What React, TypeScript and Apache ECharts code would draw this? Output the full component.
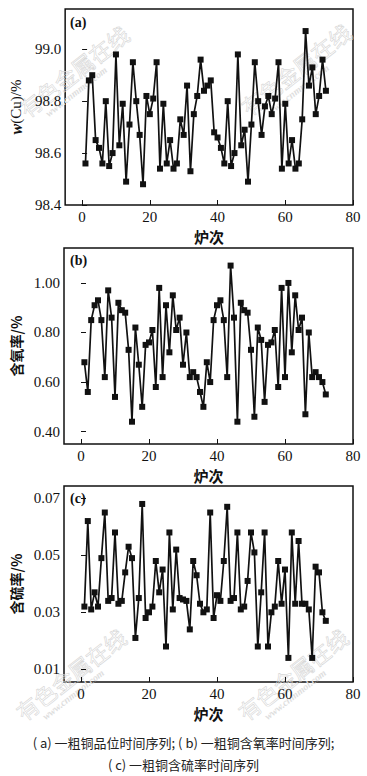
import React, { useEffect, useRef } from "react";
import * as echarts from "echarts";

const furnace = [
  1, 2, 3, 4, 5, 6, 7, 8, 9, 10, 11, 12, 13, 14, 15, 16, 17, 18, 19, 20, 21, 22, 23, 24,
  25, 26, 27, 28, 29, 30, 31, 32, 33, 34, 35, 36, 37, 38, 39, 40, 41, 42, 43, 44, 45, 46, 47, 48,
  49, 50, 51, 52, 53, 54, 55, 56, 57, 58, 59, 60, 61, 62, 63, 64, 65, 66, 67, 68, 69, 70, 71, 72,
];

const cuValues = [
  98.56, 98.88, 98.9, 98.65, 98.62, 98.56, 98.8, 98.55, 98.6, 98.98,
  98.63, 98.79, 98.49, 98.71, 98.95, 98.8, 98.67, 98.48, 98.82, 98.75,
  98.81, 98.95, 98.54, 98.79, 98.56, 98.65, 98.54, 98.56, 98.73, 98.67,
  98.86, 98.53, 98.75, 98.82, 98.96, 98.84, 98.86, 98.88, 98.68, 98.66,
  98.62, 98.56, 98.8, 98.55, 98.6, 98.98, 98.63, 98.69, 98.49, 98.71,
  98.95, 98.8, 98.67, 98.78, 98.82, 98.75, 98.81, 98.95, 98.54, 98.79,
  98.56, 98.65, 98.54, 98.56, 98.73, 99.07, 98.86, 98.93, 98.75, 98.82,
  98.96, 98.84,
];

const oxygenValues = [
  0.68, 0.56, 0.85, 0.91, 0.93, 0.85, 0.62, 0.97, 0.86, 0.54,
  0.92, 0.89, 0.88, 0.73, 0.44, 0.82, 0.67, 0.5, 0.75, 0.76,
  0.81, 0.58, 0.98, 0.62, 0.91, 0.72, 0.95, 0.81, 0.86, 0.67,
  0.8, 0.62, 0.64, 0.62, 0.56, 0.5, 0.68, 0.6, 0.85, 0.91,
  0.93, 0.85, 0.62, 1.07, 0.86, 0.44, 0.92, 0.89, 0.88, 0.73,
  0.46, 0.82, 0.77, 0.52, 0.75, 0.76, 0.81, 0.58, 0.98, 0.62,
  1.0, 0.72, 0.95, 0.81, 0.86, 0.47, 0.8, 0.62, 0.64, 0.62,
  0.6, 0.55,
];

const sulfurValues = [
  0.032, 0.062, 0.031, 0.037, 0.032, 0.049, 0.065, 0.034, 0.035, 0.058,
  0.033, 0.034, 0.044, 0.053, 0.049, 0.021, 0.035, 0.068, 0.028, 0.03,
  0.032, 0.048, 0.037, 0.045, 0.018, 0.058, 0.031, 0.052, 0.035, 0.0345,
  0.034, 0.024, 0.048, 0.043, 0.033, 0.03, 0.031, 0.065, 0.028, 0.036,
  0.034, 0.048, 0.067, 0.034, 0.035, 0.058, 0.031, 0.032, 0.041, 0.058,
  0.051, 0.018, 0.037, 0.058, 0.018, 0.03, 0.032, 0.048, 0.033, 0.045,
  0.014, 0.058, 0.033, 0.055, 0.033, 0.033, 0.031, 0.014, 0.046, 0.044,
  0.03, 0.027,
];

const xTicks = [0, 20, 40, 60, 80];
const cuTicks = [98.4, 98.6, 98.8, 99.0];
const oxygenTicks = [0.4, 0.6, 0.8, 1.0];
const sulfurTicks = [0.01, 0.03, 0.05, 0.07];

const panelLabels = ["(a)", "(b)", "(c)"];
const xName = "炉次";
const yNames = ["{i|w}(Cu)/%", "含氧率/%", "含硫率/%"];
const captionLine1 = "( a) 一粗铜品位时间序列; ( b) 一粗铜含氧率时间序列;";
const captionLine2 = "( c) 一粗铜含硫率时间序列";
const watermarkText = "有色金属在线";
const watermarkUrl = "www.cnmmol.com";

const SERIF = "'Liberation Serif', 'DejaVu Serif', serif";
const CJK = "'Noto Sans CJK SC', sans-serif";

export default function App() {
  const ref = useRef<HTMLDivElement>(null);

  useEffect(() => {
    if (!ref.current) return;
    const chart = echarts.init(ref.current, undefined, { renderer: "svg" });

    const panels = [
      { top: 9, min: 98.4, max: 99.155, ticks: cuTicks, digits: 1, values: cuValues },
      { top: 248, min: 0.35, max: 1.141, ticks: oxygenTicks, digits: 2, values: oxygenValues },
      { top: 486, min: 0.00555, max: 0.0743, ticks: sulfurTicks, digits: 2, values: sulfurValues },
    ];

    const grid = panels.map((p) => ({
      left: 64,
      right: 14,
      top: p.top,
      height: 196,
      show: true,
      borderColor: "#111",
      borderWidth: 1.5,
      backgroundColor: "transparent",
    }));

    const xAxis = panels.map((_, i) => ({
      type: "value",
      gridIndex: i,
      min: -5,
      max: 80,
      name: xName,
      nameLocation: "middle",
      nameGap: 24,
      nameTextStyle: { fontFamily: CJK, fontSize: 15, fontWeight: "bold", color: "#111" },
      axisLine: { show: false },
      splitLine: { show: false },
      axisTick: { show: true, inside: true, length: 5, lineStyle: { color: "#111", width: 1 }, customValues: xTicks },
      axisLabel: {
        customValues: xTicks,
        margin: 4,
        fontFamily: SERIF,
        fontSize: 15,
        color: "#111",
      },
    }));

    const yAxis = panels.map((p, i) => ({
      type: "value",
      gridIndex: i,
      min: p.min,
      max: p.max,
      name: yNames[i],
      nameLocation: "middle",
      nameRotate: 90,
      nameGap: 32,
      nameTextStyle: {
        fontFamily: i === 0 ? SERIF : CJK,
        fontSize: i === 0 ? 15 : 14,
        fontWeight: i === 0 ? "normal" : "bold",
        color: "#111",
        rich: { i: { fontStyle: "italic", fontFamily: SERIF, fontSize: 16, fontWeight: "bold", color: "#111" } },
      },
      axisLine: { show: false },
      splitLine: { show: false },
      axisTick: { show: true, inside: true, length: 5, lineStyle: { color: "#111", width: 1 }, customValues: p.ticks },
      axisLabel: {
        customValues: p.ticks,
        margin: 4,
        fontFamily: SERIF,
        fontSize: 15,
        color: "#111",
        formatter: (v: number) => v.toFixed(p.digits),
      },
    }));

    const series = panels.map((p, i) => ({
      type: "line",
      xAxisIndex: i,
      yAxisIndex: i,
      data: furnace.map((f, j) => [f, p.values[j]]),
      symbol: "rect",
      symbolSize: 6,
      showAllSymbol: true,
      z: 5,
      lineStyle: { color: "#111", width: 1.7 },
      itemStyle: { color: "#111" },
    }));

    const wm = (x: number, y: number) => ({
      type: "group",
      x,
      y,
      rotation: 0.66,
      silent: true,
      z: 0,
      children: [
        {
          type: "text",
          x: 0,
          y: 0,
          z: 0,
          style: { text: watermarkText, fontFamily: CJK, fontSize: 22, fill: "rgba(0,0,0,0)", stroke: "#d6d6d6", lineWidth: 0.6, textVerticalAlign: "bottom" },
        },
        {
          type: "text",
          x: 18,
          y: 2,
          z: 0,
          style: { text: watermarkUrl, fontFamily: SERIF, fontSize: 10, fontWeight: "bold", fontStyle: "italic", fill: "#dedede", textVerticalAlign: "top" },
        },
      ],
    });

    const graphic: any[] = [
      wm(28, 120),
      wm(250, 118),
      wm(25, 723),
      wm(247, 723),
      ...panelLabels.map((t, i) => ({
        type: "text",
        left: 70,
        top: [15, 253, 491][i],
        style: { text: t, fontFamily: SERIF, fontSize: 14, fontWeight: "bold", fill: "#111" },
        z: 10,
      })),
      {
        type: "text",
        left: "center",
        top: 736,
        style: { text: captionLine1, fontFamily: CJK, fontSize: 13, fill: "#222" },
      },
      {
        type: "text",
        left: "center",
        top: 758,
        style: { text: captionLine2, fontFamily: CJK, fontSize: 13, fill: "#222" },
      },
    ];

    chart.setOption({
      animation: false,
      backgroundColor: "#fff",
      grid,
      xAxis,
      yAxis,
      series,
      graphic,
    } as any);

    return () => chart.dispose();
  }, []);

  return (
    <div
      ref={ref}
      style={{ position: "absolute", left: 0, top: 0, width: 367, height: 776 }}
    />
  );
}
